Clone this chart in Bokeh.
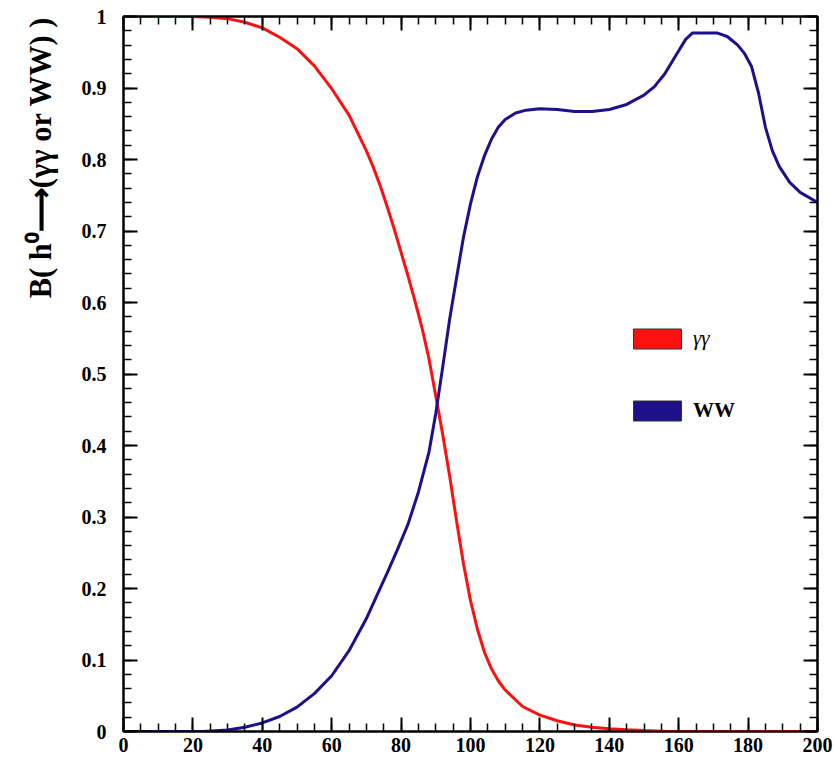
import numpy as np
from bokeh.plotting import figure
from bokeh.models import (Range1d, LinearAxis, FixedTicker, CustomJSTickFormatter,
                          Title, Legend, LegendItem)
from bokeh.embed import file_html
from bokeh.resources import INLINE

# ---- data ----
mass_gg = [0, 20, 25, 30, 35, 40, 45, 50, 55, 60, 65, 70, 72, 74, 76, 78, 80, 82, 84, 86,
           88, 90, 92, 94, 96, 98, 100, 102, 104, 106, 108, 110, 115, 120, 125, 130, 135,
           140, 145, 150, 157, 200]
br_gg = [1.0, 1.0, 0.999, 0.997, 0.992, 0.984, 0.971, 0.955, 0.931, 0.899, 0.862, 0.812,
         0.789, 0.763, 0.734, 0.703, 0.670, 0.637, 0.602, 0.565, 0.522, 0.469, 0.415,
         0.357, 0.294, 0.234, 0.183, 0.143, 0.111, 0.088, 0.071, 0.058, 0.035, 0.023,
         0.015, 0.009, 0.006, 0.004, 0.0025, 0.0013, 0.0, 0.0]

mass_ww = [0, 23, 30, 35, 40, 45, 50, 55, 60, 65, 70, 73, 76, 79, 82, 85, 88, 90, 92, 94,
           96, 98, 100, 102, 104, 106, 108, 110, 113, 116, 120, 125, 130, 135, 140, 145,
           150, 153, 156, 159, 162, 164, 171, 174, 177, 179, 181, 183, 185, 187, 189,
           192, 195, 200]
br_ww = [0.0, 0.0, 0.002, 0.006, 0.012, 0.021, 0.034, 0.053, 0.078, 0.113, 0.158, 0.19,
         0.222, 0.255, 0.29, 0.335, 0.39, 0.445, 0.51, 0.577, 0.635, 0.692, 0.738, 0.776,
         0.805, 0.828, 0.845, 0.856, 0.865, 0.869, 0.871, 0.87, 0.867, 0.867, 0.87, 0.877,
         0.89, 0.902, 0.92, 0.944, 0.968, 0.977, 0.977, 0.972, 0.96, 0.948, 0.93, 0.893,
         0.845, 0.812, 0.79, 0.768, 0.754, 0.74]

x_ticks = [0, 20, 40, 60, 80, 100, 120, 140, 160, 180, 200]
y_ticks = [0.0, 0.1, 0.2, 0.3, 0.4, 0.5, 0.6, 0.7, 0.8, 0.9, 1.0]
y_tick_labels = ["0", "0.1", "0.2", "0.3", "0.4", "0.5", "0.6", "0.7", "0.8", "0.9", "1"]
series_labels = ["γγ", "WW"]
y_title = "B( h⁰⟶(γγ or WW) )"

FONT = "Liberation Serif"
RED = "#ff1010"
BLUE = "#1e0f8a"

p = figure(width=835, height=760, x_range=Range1d(0, 200), y_range=Range1d(0, 1),
           output_backend="svg", toolbar_location=None,
           min_border_left=123, min_border_right=18, min_border_top=16, min_border_bottom=29)
p.xgrid.visible = False
p.ygrid.visible = False
p.background_fill_color = "white"
p.border_fill_color = "white"
p.outline_line_color = "black"
p.outline_line_width = 2

x_minor = list(np.arange(0, 200.01, 5))
y_minor = [round(v, 2) for v in np.arange(0, 1.0001, 0.02)]


def style(ax, labels=True):
    ax.axis_line_color = "black"
    ax.axis_line_width = 2
    ax.major_tick_line_color = "black"
    ax.major_tick_line_width = 2
    ax.minor_tick_line_color = "black"
    ax.minor_tick_line_width = 1.5
    ax.major_tick_in = 14
    ax.major_tick_out = 0
    ax.minor_tick_in = 8
    ax.minor_tick_out = 0
    ax.axis_label = None
    if labels:
        ax.major_label_text_font = FONT
        ax.major_label_text_font_style = "bold"
        ax.major_label_text_font_size = "20px"
        ax.major_label_text_color = "black"
    else:
        ax.major_label_text_font_size = "1px"
        ax.major_label_text_color = None
        ax.major_label_standoff = 0


xa = p.xaxis[0]
xa.ticker = FixedTicker(ticks=x_ticks, minor_ticks=x_minor)
style(xa)
xa.major_label_standoff = 6

ya = p.yaxis[0]
ya.ticker = FixedTicker(ticks=y_ticks, minor_ticks=y_minor)
ya.formatter = CustomJSTickFormatter(code="return String(Number(tick.toFixed(2)));")
ya.major_label_overrides = {t: l for t, l in zip(y_ticks, y_tick_labels)}
style(ya)
ya.major_label_standoff = 17

title = Title(text=y_title, align="right", vertical_align="middle", text_font=FONT,
              text_font_style="bold", text_font_size="30.5px", text_color="black",
              offset=0, standoff=40)
p.add_layout(title, "left")

top = LinearAxis(ticker=FixedTicker(ticks=x_ticks, minor_ticks=x_minor))
style(top, labels=False)
p.add_layout(top, "above")
right = LinearAxis(ticker=FixedTicker(ticks=y_ticks, minor_ticks=y_minor))
style(right, labels=False)
p.add_layout(right, "right")

p.line(mass_gg, br_gg, line_color=RED, line_width=3)
p.line(mass_ww, br_ww, line_color=BLUE, line_width=3)

# legend swatches: dummy quads placed outside the visible range (clipped away)
r_gg = p.quad(left=[-20], right=[-10], top=[-0.5], bottom=[-1], fill_color=RED,
              line_color="#333333", line_width=1)
r_ww = p.quad(left=[-20], right=[-10], top=[-0.5], bottom=[-1], fill_color=BLUE,
              line_color="#333333", line_width=1)

for lab, rend, loc, style_ in [(series_labels[0], r_gg, (504, 380), "italic"),
                               (series_labels[1], r_ww, (504, 308), "bold")]:
    leg = Legend(items=[LegendItem(label=lab, renderers=[rend])], location=loc,
                 glyph_width=60, glyph_height=25, label_height=25, label_standoff=6,
                 padding=0, margin=0, border_line_color=None, background_fill_alpha=0,
                 label_text_font=FONT, label_text_font_style=style_,
                 label_text_font_size="21px", label_text_color="black")
    p.add_layout(leg)

open("out.html", "w").write(file_html(p, INLINE))
